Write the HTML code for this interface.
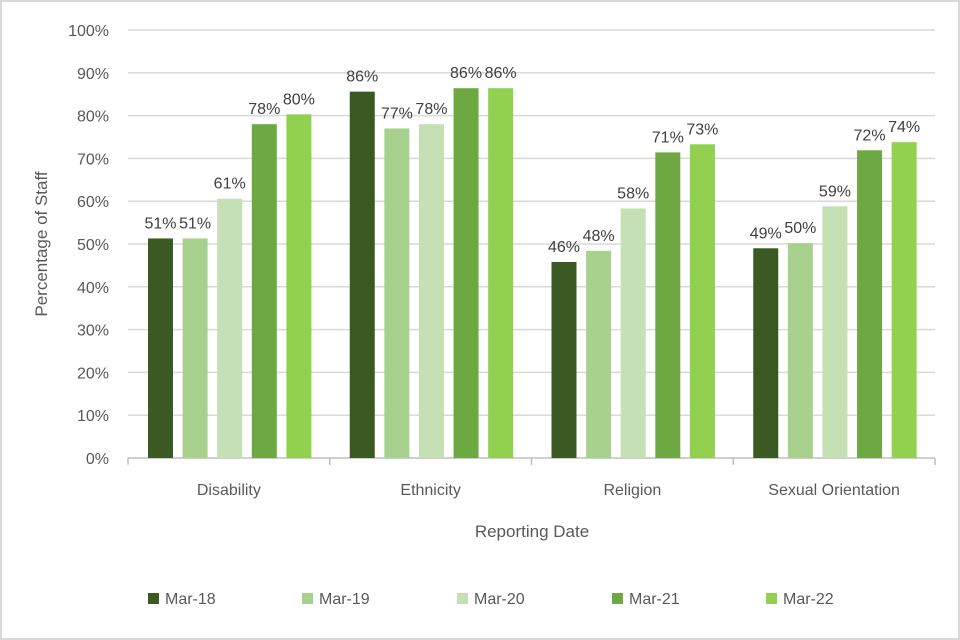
<!DOCTYPE html>
<html><head><meta charset="utf-8"><style>
body{margin:0;background:#fff}
svg{display:block;font-family:"Liberation Sans",sans-serif}
</style></head><body>
<svg id="chart" width="960" height="640">
<rect x="1" y="1" width="958" height="638" fill="#fff" stroke="#d9d9d9" stroke-width="2"/>
<g id="grid"></g><g id="bars"></g><g id="labels"></g>
<text x="47" y="244" transform="rotate(-90 47 244)" text-anchor="middle" font-size="17" fill="#595959">Percentage of Staff</text>
<text x="532" y="537" text-anchor="middle" font-size="17" fill="#595959">Reporting Date</text>
<g id="legend"></g>
</svg>
<script>
const categories=["Disability","Ethnicity","Religion","Sexual Orientation"];
const seriesNames=["Mar-18","Mar-19","Mar-20","Mar-21","Mar-22"];
const mar18=[51.3,85.6,45.8,49.0];
const mar19=[51.3,77.0,48.4,50.2];
const mar20=[60.6,78.0,58.3,58.8];
const mar21=[78.0,86.4,71.4,71.9];
const mar22=[80.3,86.4,73.3,73.8];
const yTicks=[0,10,20,30,40,50,60,70,80,90,100];
const colors=["#3b5a23","#a9d18e","#c5e0b4","#6ea843","#92d050"];
const series=[mar18,mar19,mar20,mar21,mar22];
const NS="http://www.w3.org/2000/svg";
const x0=128,x1=935,y0=458,yTop=30;
const catW=(x1-x0)/categories.length;
const y=v=>y0-(v/100)*(y0-yTop);
const barW=25,step=34.6,off=20;
function mk(tag,attrs,parent,txt){const e=document.createElementNS(NS,tag);for(const k in attrs)e.setAttribute(k,attrs[k]);if(txt!==undefined)e.textContent=txt;parent.appendChild(e);return e;}
const grid=document.getElementById('grid');
yTicks.forEach(t=>{
  if(t>0){const l=mk('line',{x1:x0,x2:x1,y1:y(t),y2:y(t),stroke:'#d9d9d9','stroke-width':1.5},grid);
  
  }
  const tx=mk('text',{x:109,y:y(t)+6,'text-anchor':'end','font-size':16,fill:'#595959'},grid,t+'%');
  
  
});
const ax=mk('line',{x1:x0,x2:x1,y1:y0,y2:y0,stroke:'#bfbfbf','stroke-width':1.5},grid);


for(let i=0;i<=categories.length;i++){const tk=mk('line',{x1:x0+i*catW,x2:x0+i*catW,y1:y0,y2:y0+7,stroke:'#bfbfbf','stroke-width':1.5},grid);

}
const bars=document.getElementById('bars'),labels=document.getElementById('labels');
categories.forEach((c,ci)=>{
  const ct=mk('text',{x:x0+ci*catW+catW/2,y:495,'text-anchor':'middle','font-size':16,fill:'#595959'},labels,c);
  
  
  series.forEach((s,si)=>{
    const bx=x0+ci*catW+off+si*step;
    const r=mk('rect',{x:bx,y:y(s[ci]),width:barW,height:y0-y(s[ci]),fill:colors[si]},bars);
    
    
    const lt=mk('text',{x:bx+barW/2,y:y(s[ci])-10,'text-anchor':'middle','font-size':16,fill:'#404040'},labels,Math.round(s[ci])+'%');
    
    
  });
});
const lg=document.getElementById('legend');
const lx=[148,302,457,612,766];
seriesNames.forEach((n,i)=>{
  const r=mk('rect',{x:lx[i],y:593,width:11,height:11,fill:colors[i]},lg);
  
  
  const t=mk('text',{x:lx[i]+17,y:604,'font-size':16,fill:'#595959'},lg,n);
  
  
});
</script>
</body></html>
